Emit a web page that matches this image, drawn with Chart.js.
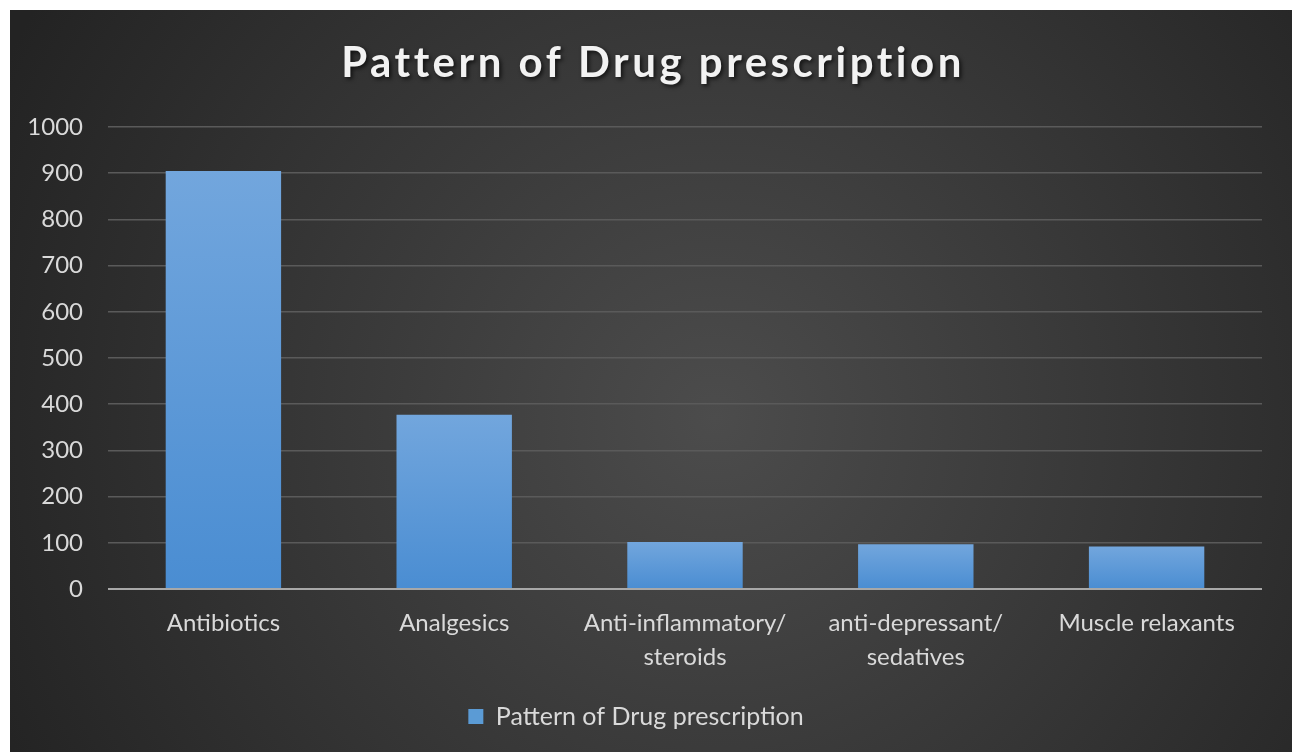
<!DOCTYPE html>
<html>
<head>
<meta charset="utf-8">
<script src="https://cdn.jsdelivr.net/npm/chart.js@4.4.1/dist/chart.umd.min.js"></script>
<style>
    html, body { margin: 0; padding: 0; background: #fff; }
    #wrap { position: absolute; left: 10px; top: 10px; width: 1282px; height: 742px; }
</style>
</head>
<body>
<div id="wrap"><canvas id="drugChart"></canvas></div>
<script>
const chartTitle = 'Pattern of Drug prescription';
const categories = [
    'Antibiotics',
    'Analgesics',
    ['Anti-inflammatory/', 'steroids'],
    ['anti-depressant/', 'sedatives'],
    'Muscle relaxants'
];
const prescriptions = [905, 377, 102, 97, 92];
const yTicks = [0, 100, 200, 300, 400, 500, 600, 700, 800, 900, 1000];

const FONT = 'Lato, "Open Sans", sans-serif';
const textColor = '#d9d9d9';

// dark radial background, like the Excel style
const backgroundPlugin = {
    id: 'darkBackground',
    beforeDraw(chart) {
        const { ctx, width, height } = chart;
        const g = ctx.createRadialGradient(width * 0.55, height * 0.55, 0, width * 0.55, height * 0.55, width * 0.62);
        g.addColorStop(0, '#4c4c4c');
        g.addColorStop(1, '#232323');
        ctx.save();
        ctx.fillStyle = g;
        ctx.fillRect(0, 0, width, height);
        ctx.restore();
    }
};

// title with letter spacing and a soft shadow
const titlePlugin = {
    id: 'spacedTitle',
    afterDraw(chart) {
        const ctx = chart.ctx;
        ctx.save();
        ctx.font = 'bold 42px ' + FONT;
        ctx.letterSpacing = '3.5px';
        ctx.textAlign = 'center';
        ctx.textBaseline = 'middle';
        ctx.shadowColor = 'rgba(0,0,0,0.7)';
        ctx.shadowBlur = 4;
        ctx.shadowOffsetX = 2;
        ctx.shadowOffsetY = 2;
        ctx.fillStyle = '#f2f2f2';
        ctx.fillText(chartTitle, chart.width / 2 + 2, 53);
        ctx.restore();
    }
};

function barGradient(context) {
    const chart = context.chart;
    const area = chart.chartArea;
    if (!area) return '#5b9bd5';
    const y = chart.scales.y;
    const top = y.getPixelForValue(context.raw);
    const g = chart.ctx.createLinearGradient(0, top, 0, area.bottom);
    g.addColorStop(0, '#72a6dd');
    g.addColorStop(1, '#4a8dd2');
    return g;
}

new Chart(document.getElementById('drugChart'), {
    type: 'bar',
    data: {
        labels: categories,
        datasets: [{
            label: chartTitle,
            data: prescriptions,
            backgroundColor: barGradient,
            borderWidth: 0,
            barPercentage: 0.5,
            categoryPercentage: 1
        }]
    },
    options: {
        responsive: true,
        maintainAspectRatio: false,
        animation: false,
        layout: { padding: { top: 117, right: 30, bottom: 13, left: 0 } },
        scales: {
            x: {
                grid: { display: false },
                border: { display: false },
                ticks: {
                    color: textColor,
                    font: { family: FONT, size: 24, lineHeight: 1.42 },
                    padding: 9,
                    maxRotation: 0
                },
                afterFit(scale) { scale.height = 105; }
            },
            y: {
                min: 0,
                max: 1000,
                afterBuildTicks(scale) { scale.ticks = yTicks.map(v => ({ value: v })); },
                grid: {
                    color: (c) => c.tick && c.tick.value === 0 ? '#a8a8a8' : '#5a5a5a',
                    lineWidth: (c) => c.tick && c.tick.value === 0 ? 2 : 1.5,
                    drawTicks: false
                },
                border: { display: false },
                ticks: {
                    color: textColor,
                    font: { family: FONT, size: 24 },
                    padding: 25,
                    callback: (v) => String(v)
                },
                afterFit(scale) { scale.width = 98; }
            }
        },
        plugins: {
            legend: {
                position: 'bottom',
                labels: {
                    color: textColor,
                    font: { family: FONT, size: 25 },
                    boxWidth: 15,
                    boxHeight: 15,
                    padding: 10,
                    generateLabels(chart) {
                        return [{
                            text: chartTitle,
                            fillStyle: '#5b9bd5',
                            strokeStyle: '#5b9bd5',
                            lineWidth: 0,
                            fontColor: textColor,
                            datasetIndex: 0
                        }];
                    }
                }
            },
            tooltip: { enabled: false }
        }
    },
    plugins: [backgroundPlugin, titlePlugin]
});
</script>
</body>
</html>
